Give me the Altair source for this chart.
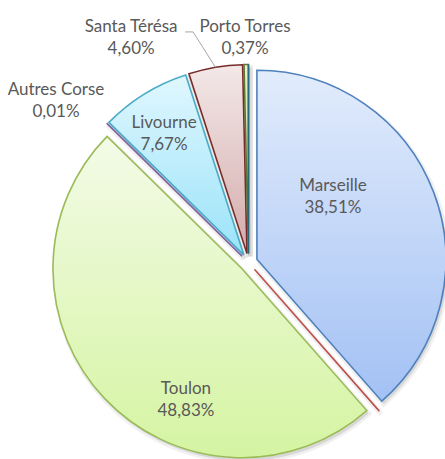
import math
import altair as alt
import pandas as pd

# ---- data ----
categories = ["Marseille", "", "Toulon", "Autres Corse", "Livourne", "Santa Térésa", "Porto Torres", " "]
shares = [38.51, 0.0, 48.83, 0.01, 7.67, 4.60, 0.37, 0.0]

# ---- styles / layout ----
stroke_colors = ["#4F81BD", "#C0504D", "#9BBB59", "#8064A2", "#4BACC6", "#772C2A", "#5F7530", "#276A7C"]
fill_top = ["#E2ECFC", "#F4DCDB", "#F3FBE7", "#E9E2F2", "#E0F7FE", "#F3E8E8", "#E6F2CF", "#D3EEF5"]
fill_bottom = ["#A3C1F4", "#E0A9A7", "#D5F4A2", "#C8B8DE", "#9BE3F9", "#D4ABAB", "#B8D88A", "#9FD6E6"]
label_angle = [52.0, None, 204.4, 310.0, 326.7, 332.4, 359.1, None]
label_radius = [107.2, None, 151.5, 251.3, 153.8, 253.4, 224.5, None]
has_leader = [0, 0, 0, 0, 0, 1, 0, 0]

CX, CY, R, EXPLODE = 248.5, 262.5, 189, 9
FONT = "Lato"
TEXT_COLOR = "#595959"

df = pd.DataFrame({
    "order": list(range(len(categories))),
    "cat": categories,
    "share": shares,
    "pct": [("%.2f" % v).replace(".", ",") + "%" if v > 0 else "" for v in shares],
    "la": [a if a is not None else 0 for a in label_angle],
    "lr": [r if r is not None else 0 for r in label_radius],
    "leader": has_leader,
})

base = alt.Chart(df).transform_joinaggregate(
    total="sum(share)"
).transform_window(
    cum="sum(share)", sort=[alt.SortField("order")], frame=[None, 0]
).transform_calculate(
    t0="(datum.cum - datum.share) / datum.total * 2 * PI",
    t1="datum.cum / datum.total * 2 * PI",
).transform_calculate(
    mid="(datum.t0 + datum.t1) / 2"
).transform_calculate(
    cx=f"{CX} + {EXPLODE} * sin(datum.mid)",
    cy=f"{CY} - {EXPLODE} * cos(datum.mid)",
    lx=f"{CX} + datum.lr * sin(datum.la * PI / 180)",
    ly=f"{CY} - datum.lr * cos(datum.la * PI / 180)",
)

arc_enc = dict(
    theta=alt.Theta("t0:Q", scale=None, stack=None),
    theta2="t1:Q",
    x=alt.X("cx:Q", scale=None),
    y=alt.Y("cy:Q", scale=None),
)

layers = []
# soft shadow
layers.append(base.mark_arc(radius=R, fill="#000000", fillOpacity=0.10, stroke="#000000",
                            strokeOpacity=0.06, strokeWidth=5, xOffset=2, yOffset=3).encode(**arc_enc))

for i in range(len(categories)):
    grad = {
        "gradient": "linear", "x1": 0, "y1": 0, "x2": 0, "y2": 1,
        "stops": [{"offset": 0, "color": fill_top[i]}, {"offset": 1, "color": fill_bottom[i]}],
    }
    layers.append(
        base.transform_filter(f"datum.order == {i}")
        .mark_arc(radius=R, fill=grad, stroke=stroke_colors[i], strokeWidth=1.6, strokeJoin="miter")
        .encode(**arc_enc)
    )

labels = base.transform_filter("datum.share > 0")
layers.append(labels.mark_text(font=FONT, fontSize=17, color=TEXT_COLOR, dy=-11).encode(
    x=alt.X("lx:Q", scale=None), y=alt.Y("ly:Q", scale=None), text="cat:N"))
layers.append(labels.mark_text(font=FONT, fontSize=17, color=TEXT_COLOR, dy=11).encode(
    x=alt.X("lx:Q", scale=None), y=alt.Y("ly:Q", scale=None), text="pct:N"))

leader = base.transform_filter("datum.leader == 1").transform_calculate(
    sx="datum.lx + 54", sy="datum.ly - 6", bx="datum.lx + 62",
    ex=f"datum.cx + {R} * sin(datum.mid)", ey=f"datum.cy - {R} * cos(datum.mid)",
)
layers.append(leader.mark_rule(color="#A6A6A6", strokeWidth=1).encode(
    x=alt.X("sx:Q", scale=None), y=alt.Y("sy:Q", scale=None), x2="bx:Q", y2="sy:Q"))
layers.append(leader.mark_rule(color="#A6A6A6", strokeWidth=1).encode(
    x=alt.X("bx:Q", scale=None), y=alt.Y("sy:Q", scale=None), x2="ex:Q", y2="ey:Q"))

chart = alt.layer(*layers).properties(
    width=445, height=459, padding=0, autosize=alt.AutoSizeParams(type="none"), background="white"
).configure_view(strokeWidth=0)

chart.save("out.html", embed_options={"renderer": "svg", "actions": False})
